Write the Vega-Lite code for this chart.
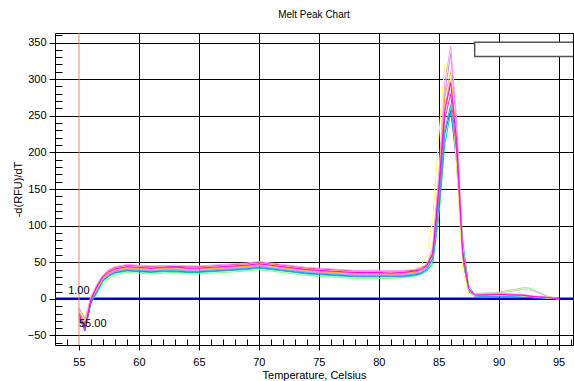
{
  "$schema": "https://vega.github.io/schema/vega-lite/v6.json",
  "width": 518,
  "height": 312,
  "autosize": {"type": "none"},
  "padding": {"left": 55, "top": 33, "right": 1, "bottom": 36},
  "background": "white",
  "title": {"text": "Melt Peak Chart", "fontSize": 10, "font": "Liberation Sans", "fontWeight": "normal", "offset": 9, "anchor": "middle", "color": "#000"},
  "config": {"view": {"stroke": "#000", "strokeWidth": 1}},
  "layer": [
    {
      "data": {"values": [{"v": 0}]},
      "mark": {"type": "rule", "color": "#0000c8", "strokeWidth": 2.5},
      "encoding": {"y": {"field": "v", "type": "quantitative"}}
    },
    {
      "data": {"values": [
        {"t":55,"a":-20,"b":-12,"c":-15,"d":-18,"e":-14,"f":-22,"g":-20,"h":-25,"i":-16,"j":-13,"k":-19,"l":-17},
        {"t":55.5,"a":-40,"b":-28,"c":-30,"d":-35,"e":-32,"f":-42,"g":-38,"h":-44,"i":-36,"j":-25,"k":-37,"l":-33},
        {"t":56,"a":0,"b":3,"c":4,"d":-1,"e":1,"f":-2,"g":-3,"h":-5,"i":-6,"j":-4,"k":-1,"l":2},
        {"t":56.5,"a":17,"b":20,"c":19,"d":14,"e":15,"f":18,"g":12,"h":11,"i":9,"j":7,"k":13,"l":16},
        {"t":57,"a":30,"b":33,"c":31,"d":28,"e":29,"f":32,"g":26,"h":25,"i":24,"j":21,"k":27,"l":30},
        {"t":57.5,"a":37,"b":40,"c":38,"d":35,"e":36,"f":39,"g":33,"h":32,"i":31,"j":28,"k":34,"l":37},
        {"t":58,"a":41,"b":44,"c":42,"d":39,"e":40,"f":43,"g":37,"h":36,"i":35,"j":33,"k":38,"l":41},
        {"t":59,"a":44,"b":47,"c":45,"d":42,"e":43,"f":46,"g":40,"h":39,"i":38,"j":36,"k":41,"l":44},
        {"t":60,"a":43,"b":46,"c":44,"d":41,"e":42,"f":45,"g":39,"h":38,"i":37,"j":35,"k":40,"l":43},
        {"t":61,"a":42,"b":45,"c":43,"d":40,"e":41,"f":44,"g":38,"h":37,"i":36,"j":34,"k":39,"l":42},
        {"t":62,"a":43,"b":45,"c":44,"d":42,"e":42,"f":45,"g":39,"h":38,"i":37,"j":35,"k":40,"l":43},
        {"t":63,"a":44,"b":46,"c":45,"d":41,"e":43,"f":44,"g":39,"h":38,"i":37,"j":36,"k":40,"l":43},
        {"t":64,"a":42,"b":45,"c":43,"d":40,"e":41,"f":44,"g":38,"h":37,"i":36,"j":34,"k":39,"l":42},
        {"t":65,"a":42,"b":45,"c":43,"d":41,"e":41,"f":44,"g":38,"h":37,"i":36,"j":34,"k":39,"l":42},
        {"t":66,"a":43,"b":46,"c":44,"d":41,"e":42,"f":45,"g":39,"h":38,"i":37,"j":35,"k":40,"l":43},
        {"t":67,"a":44,"b":47,"c":45,"d":42,"e":43,"f":46,"g":40,"h":39,"i":38,"j":36,"k":41,"l":44},
        {"t":68,"a":45,"b":48,"c":46,"d":43,"e":44,"f":47,"g":41,"h":40,"i":39,"j":37,"k":42,"l":45},
        {"t":69,"a":46,"b":49,"c":47,"d":44,"e":45,"f":48,"g":42,"h":41,"i":40,"j":38,"k":43,"l":46},
        {"t":70,"a":48,"b":51,"c":49,"d":46,"e":47,"f":50,"g":44,"h":43,"i":42,"j":40,"k":45,"l":48},
        {"t":71,"a":46,"b":49,"c":47,"d":45,"e":45,"f":48,"g":42,"h":41,"i":40,"j":38,"k":43,"l":46},
        {"t":72,"a":44,"b":47,"c":45,"d":42,"e":43,"f":46,"g":40,"h":39,"i":38,"j":36,"k":41,"l":44},
        {"t":73,"a":42,"b":45,"c":43,"d":40,"e":41,"f":44,"g":38,"h":37,"i":36,"j":34,"k":39,"l":42},
        {"t":74,"a":40,"b":43,"c":41,"d":38,"e":39,"f":42,"g":36,"h":35,"i":34,"j":32,"k":37,"l":40},
        {"t":75,"a":39,"b":42,"c":40,"d":37,"e":38,"f":41,"g":35,"h":34,"i":33,"j":31,"k":36,"l":39},
        {"t":76,"a":38,"b":41,"c":39,"d":36,"e":37,"f":40,"g":34,"h":33,"i":32,"j":30,"k":35,"l":38},
        {"t":77,"a":37,"b":40,"c":38,"d":35,"e":36,"f":39,"g":33,"h":32,"i":31,"j":29,"k":34,"l":37},
        {"t":78,"a":36,"b":39,"c":37,"d":34,"e":35,"f":38,"g":32,"h":31,"i":30,"j":28,"k":33,"l":36},
        {"t":79,"a":36,"b":39,"c":37,"d":35,"e":35,"f":38,"g":32,"h":31,"i":30,"j":28,"k":33,"l":36},
        {"t":80,"a":36,"b":39,"c":37,"d":34,"e":35,"f":38,"g":32,"h":31,"i":30,"j":28,"k":33,"l":36},
        {"t":81,"a":35,"b":38,"c":37,"d":34,"e":35,"f":38,"g":32,"h":31,"i":30,"j":28,"k":33,"l":36},
        {"t":82,"a":36,"b":39,"c":38,"d":34,"e":35,"f":38,"g":32,"h":31,"i":30,"j":29,"k":33,"l":36},
        {"t":83,"a":38,"b":40,"c":41,"d":36,"e":37,"f":39,"g":34,"h":33,"i":32,"j":31,"k":35,"l":38},
        {"t":83.5,"a":40,"b":43,"c":46,"d":39,"e":39,"f":42,"g":36,"h":35,"i":34,"j":33,"k":37,"l":40},
        {"t":84,"a":45,"b":48,"c":58,"d":45,"e":44,"f":46,"g":41,"h":40,"i":38,"j":38,"k":43,"l":45},
        {"t":84.5,"a":62,"b":70,"c":110,"d":68,"e":62,"f":60,"g":56,"h":55,"i":48,"j":52,"k":62,"l":60},
        {"t":85,"a":150,"b":170,"c":220,"d":160,"e":150,"f":140,"g":130,"h":125,"i":110,"j":128,"k":160,"l":145},
        {"t":85.5,"a":255,"b":295,"c":320,"d":275,"e":260,"f":245,"g":230,"h":225,"i":210,"j":230,"k":280,"l":260},
        {"t":86,"a":295,"b":345,"c":300,"d":310,"e":300,"f":280,"g":265,"h":258,"i":255,"j":262,"k":335,"l":300},
        {"t":86.5,"a":215,"b":245,"c":180,"d":215,"e":210,"f":200,"g":190,"h":185,"i":205,"j":190,"k":235,"l":210},
        {"t":87,"a":65,"b":70,"c":40,"d":60,"e":60,"f":60,"g":55,"h":55,"i":80,"j":60,"k":65,"l":62},
        {"t":87.5,"a":14,"b":14,"c":8,"d":12,"e":12,"f":13,"g":11,"h":10,"i":18,"j":14,"k":12,"l":13},
        {"t":88,"a":5,"b":6,"c":4,"d":5,"e":5,"f":6,"g":4,"h":3,"i":6,"j":7,"k":5,"l":6},
        {"t":89,"a":5,"b":7,"c":5,"d":5,"e":6,"f":6,"g":4,"h":3,"i":6,"j":8,"k":5,"l":8},
        {"t":90,"a":6,"b":7,"c":5,"d":6,"e":6,"f":6,"g":4,"h":3,"i":7,"j":9,"k":5,"l":8},
        {"t":91,"a":5,"b":7,"c":5,"d":5,"e":6,"f":6,"g":4,"h":3,"i":6,"j":12,"k":5,"l":10},
        {"t":92,"a":5,"b":6,"c":4,"d":5,"e":5,"f":5,"g":3,"h":2,"i":5,"j":15,"k":4,"l":13},
        {"t":92.5,"a":4,"b":5,"c":4,"d":4,"e":4,"f":4,"g":3,"h":2,"i":4,"j":15,"k":4,"l":13},
        {"t":93,"a":3,"b":4,"c":3,"d":3,"e":3,"f":3,"g":2,"h":1,"i":3,"j":12,"k":3,"l":10},
        {"t":94,"a":2,"b":2,"c":1,"d":2,"e":2,"f":2,"g":1,"h":1,"i":2,"j":4,"k":2,"l":4},
        {"t":95,"a":0,"b":0,"c":0,"d":0,"e":0,"f":0,"g":0,"h":0,"i":0,"j":0,"k":0,"l":0}
      ]},
      "transform": [{"fold": ["j","i","h","g","k","l","e","d","c","f","b","a"], "as": ["curve", "v"]}],
      "mark": {"type": "line", "strokeWidth": 1, "clip": true},
      "encoding": {
        "x": {
          "field": "t", "type": "quantitative",
          "scale": {"domain": [53, 96.2], "nice": false, "zero": false},
          "axis": {
            "title": "Temperature, Celsius",
            "values": [54,55,56,57,58,59,60,61,62,63,64,65,66,67,68,69,70,71,72,73,74,75,76,77,78,79,80,81,82,83,84,85,86,87,88,89,90,91,92,93,94,95,96],
            "tickCount": 200,
            "format": "d",
            "labelExpr": "datum.value % 5 === 0 ? datum.label : ''",
            "labelOverlap": false, "labelFlush": false,
            "labelFont": "Liberation Sans", "labelFontSize": 11, "labelColor": "#000",
            "labelPadding": 6,
            "domain": false,
            "tickColor": "#000",
            "tickSize": {"condition": {"test": "datum.value % 5 === 0", "value": 5}, "value": -6},
            "grid": true, "gridColor": "#000", "gridWidth": 1,
            "gridOpacity": {"condition": {"test": "datum.value % 5 === 0 && datum.value !== 55", "value": 1}, "value": 0},
            "titleFont": "Liberation Sans", "titleFontSize": 11, "titleFontWeight": "normal", "titleColor": "#000", "titlePadding": 2
          }
        },
        "y": {
          "field": "v", "type": "quantitative",
          "scale": {"domain": [-63, 363], "nice": false, "zero": false},
          "axis": {
            "title": "-d(RFU)/dT",
            "values": [-60,-50,-40,-30,-20,-10,0,10,20,30,40,50,60,70,80,90,100,110,120,130,140,150,160,170,180,190,200,210,220,230,240,250,260,270,280,290,300,310,320,330,340,350,360],
            "tickCount": 200,
            "format": "d",
            "labelExpr": "datum.value % 50 === 0 ? datum.label : ''",
            "labelOverlap": false, "labelFlush": false,
            "labelFont": "Liberation Sans", "labelFontSize": 11, "labelColor": "#000",
            "labelPadding": 3,
            "domain": false,
            "tickColor": "#000",
            "tickSize": {"condition": {"test": "datum.value % 50 === 0", "value": 6}, "value": -7},
            "grid": true, "gridColor": "#000", "gridWidth": 1,
            "gridOpacity": {"condition": {"test": "datum.value % 50 === 0 && datum.value !== 0", "value": 1}, "value": 0},
            "titleFont": "Liberation Sans", "titleFontSize": 11, "titleFontWeight": "normal", "titleColor": "#000", "titlePadding": 4
          }
        },
        "color": {
          "field": "curve", "type": "nominal", "legend": null,
          "scale": {
            "domain": ["a","b","c","d","e","f","g","h","i","j","k","l"],
            "range": ["#ff00ff","#ff99ff","#ffff55","#ffaa44","#ff7777","#ff3399","#00ccff","#3366ff","#00dd88","#77ff77","#cc88ff","#ffaacc"]
          }
        }
      }
    },
    {
      "data": {"values": [{"t": 55}]},
      "mark": {"type": "rule", "color": "#f08070", "strokeWidth": 1},
      "encoding": {"x": {"field": "t", "type": "quantitative"}}
    },
    {
      "data": {"values": [{"t": 54.1, "v": 11, "label": "1.00"}, {"t": 55.0, "v": -34, "label": "55.00"}]},
      "mark": {"type": "text", "align": "left", "baseline": "middle", "font": "Liberation Sans", "fontSize": 11, "color": "#000"},
      "encoding": {
        "x": {"field": "t", "type": "quantitative"},
        "y": {"field": "v", "type": "quantitative"},
        "text": {"field": "label"}
      }
    },
    {
      "data": {"values": [{"t": 88, "t2": 97, "v": 331, "v2": 350.5}]},
      "mark": {"type": "rect", "fill": "white", "stroke": "#555", "strokeWidth": 1.5, "clip": true},
      "encoding": {
        "x": {"field": "t", "type": "quantitative"},
        "x2": {"field": "t2"},
        "y": {"field": "v", "type": "quantitative"},
        "y2": {"field": "v2"}
      }
    }
  ]
}
